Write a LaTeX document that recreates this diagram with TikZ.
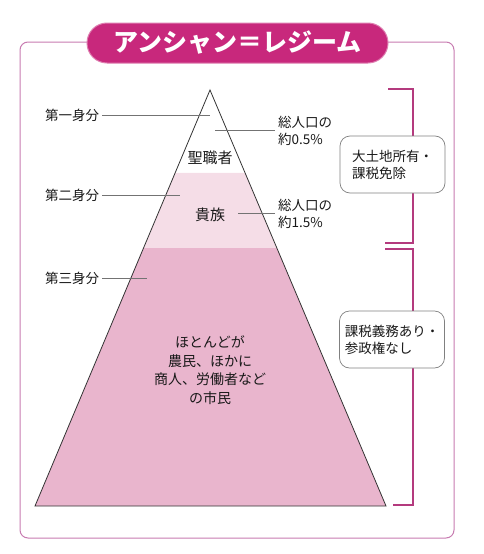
\documentclass[tikz,border=0pt]{standalone}
\usepackage{fontspec}
\setmainfont{Noto Sans CJK JP}
\usetikzlibrary{calc,positioning}
\definecolor{framePink}{HTML}{C77BB0}
\definecolor{titleMagenta}{HTML}{C8287C}
\definecolor{bracketMagenta}{HTML}{B43A7E}
\definecolor{bandDark}{HTML}{E9B5CD}
\definecolor{bandLight}{HTML}{F5DDE7}
\tikzset{
  lbl/.style={font=\fontsize{13.5}{17}\selectfont, inner sep=3pt, align=left, text=black!90},
  midLbl/.style={font=\fontsize{14}{18.5}\selectfont, inner sep=0pt, align=center, text=black!90},
  leader/.style={draw=black!55, line width=0.7pt},
  noteBox/.style={rectangle, rounded corners=10pt, draw=black!50, fill=white, line width=0.7pt,
                  minimum width=105pt, minimum height=57pt, align=left,
                  font=\fontsize{13.5}{17}\selectfont, text=black!90},
  bracket/.style={draw=bracketMagenta, line width=2pt},
  titleBox/.style={rectangle, rounded corners=20pt, fill=titleMagenta, draw=titleMagenta!60!white,
                   line width=1pt, minimum width=301pt, minimum height=40pt,
                   font=\fontsize{25}{25}\selectfont\bfseries, text=white}
}

\begin{document}
\begin{tikzpicture}[x=1pt,y=-1pt]
\useasboundingbox (0,0) rectangle (484,554);

% Frame
\draw[framePink, line width=1pt, rounded corners=8pt] (20,42) rectangle (454,538);

% Title
\node[titleBox] (title) at (237.5,43) {アンシャン＝レジーム};

% Pyramid
\coordinate (apex) at (210,90);
\coordinate (bl) at (35,506);
\coordinate (br) at (386,506);
\coordinate (p2l) at ($(apex)!0.1995!(bl)$);
\coordinate (p2r) at ($(apex)!0.1995!(br)$);
\coordinate (p3l) at ($(apex)!0.38!(bl)$);
\coordinate (p3r) at ($(apex)!0.38!(br)$);
\fill[bandLight] (p2l) -- (p2r) -- (p3r) -- (p3l) -- cycle;
\fill[bandDark] (p3l) -- (p3r) -- (br) -- (bl) -- cycle;
\draw[black!80, line width=0.8pt] (apex) -- (br) -- (bl) -- cycle;

% Texts in the pyramid
\node[midLbl, font=\fontsize{15}{18}\selectfont] (clergy) at (210,158) {聖職者};
\node[midLbl, font=\fontsize{15}{18}\selectfont] (nobles) at (210,215) {貴族};
\node[midLbl] (commons) at (210,370) {ほとんどが\\農民、ほかに\\商人、労働者など\\の市民};

% Estates
\node[lbl, anchor=west] (first) at (42,115) {第一身分};
\node[lbl, anchor=west] (second) at (42,195) {第二身分};
\node[lbl, anchor=west] (third) at (42,278) {第三身分};
\coordinate (firstEnd) at (210,115);
\coordinate (secondEnd) at (180,195);
\coordinate (thirdEnd) at (147,278);
\draw[leader] (first.east) -- (firstEnd);
\draw[leader] (second.east) -- (secondEnd);
\draw[leader] (third.east) -- (thirdEnd);

% Shares
\node[lbl, anchor=west] (share1) at (275,130.5) {総人口の\\約0.5\%};
\node[lbl, anchor=west] (share2) at (275,213.5) {総人口の\\約1.5\%};
\coordinate (share1End) at (215,130.5);
\coordinate (share2End) at (238,213.5);
\draw[leader] (share1End) -- (share1.west);
\draw[leader] (share2End) -- (share2.west);

% Brackets
\draw[bracket] (388,89) -- (413,89) -- (413,243) -- (385,243);
\draw[bracket] (385,249) -- (413,249) -- (413,505) -- (393,505);

% Notes
\node[noteBox] (privileged) at (392.5,164.5) {大土地所有・\\課税免除};
\node[noteBox] (taxed) at (392,339.5) {課税義務あり・\\参政権なし};

\end{tikzpicture}
\end{document}
